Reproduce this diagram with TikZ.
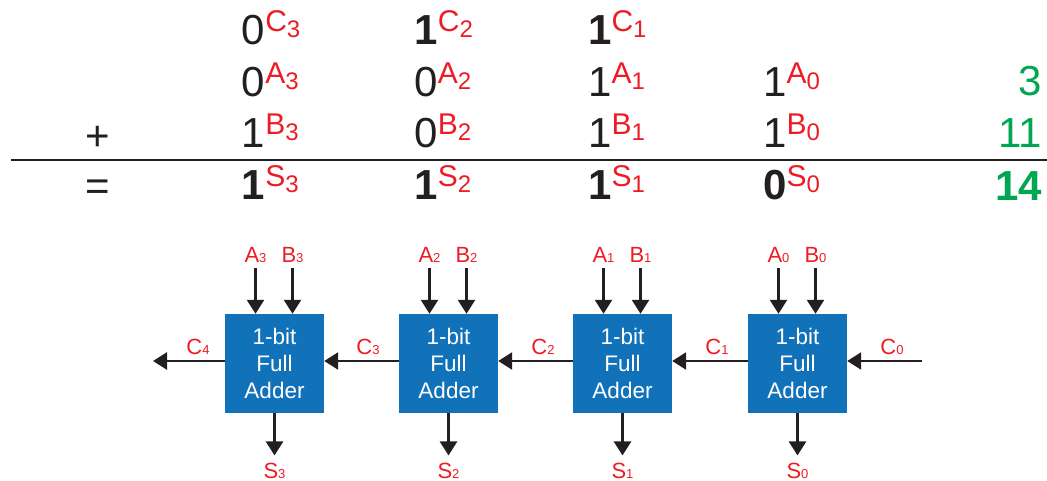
\documentclass[tikz,border=0pt]{standalone}
\usepackage{fontspec}
\setmainfont{Liberation Sans}
\usetikzlibrary{arrows.meta}
\definecolor{tred}{RGB}{237,28,36}
\definecolor{tgreen}{RGB}{0,166,81}
\definecolor{tblue}{RGB}{17,114,186}
\definecolor{tblack}{RGB}{35,31,32}
\newcommand\fs[1]{\fontsize{#1}{#1}\selectfont}
\newcommand\supl[2]{\raisebox{13pt}{\fs{30}\color{tred}#1\raisebox{-6pt}{\fs{24}#2}}}
\newcommand\lab[2]{{\fs{22}#1}{\fs{13}#2}}
\begin{document}
\begin{tikzpicture}[x=1pt,y=-1pt,
  dig/.style={anchor=base west,inner sep=0pt,font=\fs{42},text=tblack},
  num/.style={anchor=base east,inner sep=0pt,font=\fs{42},text=tgreen},
  op/.style={inner sep=0pt,font=\fs{42},text=tblack},
  fa/.style={fill=tblue,minimum width=99pt,minimum height=99pt,inner sep=0pt,
    text=white,align=center,font=\fontsize{22.5}{27}\selectfont},
  lbl/.style={anchor=base,inner sep=0pt,text=tred},
  arr/.style={line width=2.6pt,draw=tblack,-{Triangle[width=17pt,length=14pt]}}]
\useasboundingbox (0,0) rectangle (1047,481);
% --- column addition ---
\node[dig] (c3) at (241.7,45) {0\supl{C}{3}};
\node[dig] (c2) at (414.3,45) {{\bfseries 1}\supl{C}{2}};
\node[dig] (c1) at (588,45) {{\bfseries 1}\supl{C}{1}};
\node[dig] (a3) at (241.7,97) {0\supl{A}{3}};
\node[dig] (a2) at (414.3,97) {0\supl{A}{2}};
\node[dig] (a1) at (588,97) {1\supl{A}{1}};
\node[dig] (a0) at (763,97) {1\supl{A}{0}};
\node[num] (na) at (1042,96) {3};
\node[op] (plus) at (98,138) {+};
\node[dig] (b3) at (241.7,148) {1\supl{B}{3}};
\node[dig] (b2) at (414.3,148) {0\supl{B}{2}};
\node[dig] (b1) at (588,148) {1\supl{B}{1}};
\node[dig] (b0) at (763,148) {1\supl{B}{0}};
\node[num] (nb) at (1042,148) {11};
\coordinate (l1) at (11,160);
\coordinate (l2) at (1047,160);
\draw[line width=1.3pt,tblack] (l1) -- (l2);
\node[op] (eq) at (98,190) {=};
\node[dig] (s3) at (241.7,200) {{\bfseries 1}\supl{S}{3}};
\node[dig] (s2) at (414.3,200) {{\bfseries 1}\supl{S}{2}};
\node[dig] (s1) at (588,200) {{\bfseries 1}\supl{S}{1}};
\node[dig] (s0) at (763,200) {{\bfseries 0}\supl{S}{0}};
\node[num] (ns) at (1042,201) {\bfseries 14};
% --- ripple carry adder ---
\foreach \i/\x in {3/274.5,2/448.5,1/622.5,0/797.5}{
  \node[fa] (fa\i) at (\x,363.5) {1-bit\\Full\\Adder};
  \node[lbl] (la\i) at (\x-19,262) {\lab{A}{\i}};
  \node[lbl] (lb\i) at (\x+18,262) {\lab{B}{\i}};
  \node[lbl] (ls\i) at (\x,478) {\lab{S}{\i}};
  \draw[arr] ([yshift=-6pt]la\i.south) -- (fa\i.north -| la\i);
  \draw[arr] ([yshift=-6pt]lb\i.south) -- (fa\i.north -| lb\i);
  \draw[arr] (fa\i.south) -- ([yshift=7pt]ls\i.north);
}
\coordinate (cout) at (153,361);
\coordinate (cin) at (922,361);
\draw[arr] ([yshift=2.5pt]fa3.west) -- (cout);
\draw[arr] ([yshift=2.5pt]fa2.west) -- ([yshift=2.5pt]fa3.east);
\draw[arr] ([yshift=2.5pt]fa1.west) -- ([yshift=2.5pt]fa2.east);
\draw[arr] ([yshift=2.5pt]fa0.west) -- ([yshift=2.5pt]fa1.east);
\draw[arr] (cin) -- ([yshift=2.5pt]fa0.east);
\node[lbl] (lc4) at (198,354) {\lab{C}{4}};
\node[lbl] (lc3) at (368,354) {\lab{C}{3}};
\node[lbl] (lc2) at (543,354) {\lab{C}{2}};
\node[lbl] (lc1) at (717,354) {\lab{C}{1}};
\node[lbl] (lc0) at (892,354) {\lab{C}{0}};
\end{tikzpicture}
\end{document}
